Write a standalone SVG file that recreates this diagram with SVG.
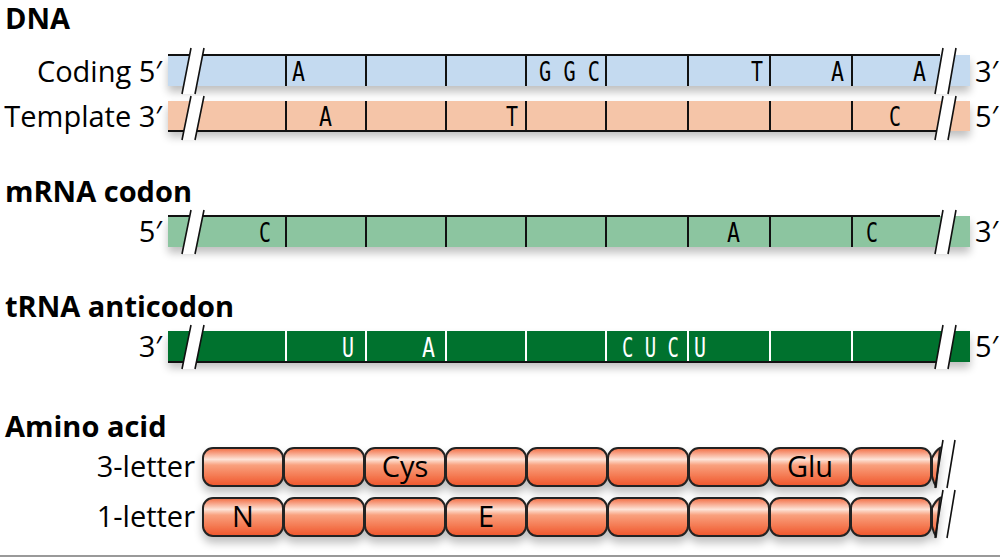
<svg xmlns="http://www.w3.org/2000/svg" width="1000" height="558" viewBox="0 0 1000 558">
<defs>
<filter id="sh" x="-5%" y="-50%" width="110%" height="250%"><feGaussianBlur in="SourceAlpha" stdDeviation="4"/><feOffset dy="6"/><feComponentTransfer><feFuncA type="linear" slope="0.25"/></feComponentTransfer><feMerge><feMergeNode/><feMergeNode in="SourceGraphic"/></feMerge></filter>
<linearGradient id="aa" x1="0" y1="0" x2="0" y2="1"><stop offset="0" stop-color="#f26a40"/><stop offset="0.3" stop-color="#fde4d8"/><stop offset="0.45" stop-color="#f9a17e"/><stop offset="1" stop-color="#f0552a"/></linearGradient>
<style>
.h{font-family:"Open Sans","Liberation Sans",sans-serif;font-weight:bold;font-size:29px}
.l{font-family:"Open Sans","Liberation Sans",sans-serif;font-size:29px}
.m{font-family:"DejaVu Sans Mono",monospace;font-size:26px}
.d{stroke:#111;stroke-width:2}
.w{stroke:#fff;stroke-width:2}
.b{fill:#fff;stroke:none}
.k{stroke:#111;stroke-width:1.6;fill:none}
.a{fill:url(#aa);stroke:#222;stroke-width:2}
.p{font-family:"Open Sans","Liberation Sans",sans-serif;font-size:29px}
</style>
</defs>
<rect width="1000" height="558" fill="#fff"/>
<line x1="0" y1="556" x2="1000" y2="556" stroke="#999" stroke-width="2"/>
<text class="h" x="5" y="29">DNA</text>
<text class="h" x="5" y="202">mRNA codon</text>
<text class="h" x="5" y="317">tRNA anticodon</text>
<text class="h" x="5" y="437">Amino acid</text>

<g id="coding">
<text class="l" x="162" y="82" text-anchor="end">Coding 5′</text>
<text class="l" x="975" y="82">3′</text>
<rect x="168" y="55" width="802" height="31" fill="#c4daf0" filter="url(#sh)"/>
<line class="d" x1="168" y1="55" x2="940" y2="55"/>
<g class="d"><line x1="286" y1="55" x2="286" y2="86"/><line x1="366" y1="55" x2="366" y2="86"/><line x1="446" y1="55" x2="446" y2="86"/><line x1="526" y1="55" x2="526" y2="86"/><line x1="606" y1="55" x2="606" y2="86"/><line x1="688" y1="55" x2="688" y2="86"/><line x1="770" y1="55" x2="770" y2="86"/><line x1="852" y1="55" x2="852" y2="86"/></g>
<text class="m" x="292" y="81" textLength="13" lengthAdjust="spacingAndGlyphs">A</text><text class="m" x="539" y="81" textLength="61" lengthAdjust="spacingAndGlyphs">G G C</text><text class="m" x="751" y="81" textLength="12" lengthAdjust="spacingAndGlyphs">T</text><text class="m" x="831" y="81" textLength="13" lengthAdjust="spacingAndGlyphs">A</text><text class="m" x="913" y="81" textLength="13" lengthAdjust="spacingAndGlyphs">A</text>
<polygon class="b" points="191,48 204,48 195,94 182,94"/><polygon class="b" points="943,48 956,48 948,94 935,94"/>
<path class="k" d="M191,48 L182,94 M204,48 L195,94 M943,48 L935,94 M956,48 L948,94"/>
</g>

<g id="template">
<text class="l" x="162" y="127" text-anchor="end">Template 3′</text>
<text class="l" x="975" y="127">5′</text>
<rect x="168" y="101" width="802" height="30" fill="#f5c5a8" filter="url(#sh)"/>
<line class="d" x1="168" y1="131" x2="940" y2="131"/>
<g class="d"><line x1="286" y1="101" x2="286" y2="131"/><line x1="366" y1="101" x2="366" y2="131"/><line x1="446" y1="101" x2="446" y2="131"/><line x1="526" y1="101" x2="526" y2="131"/><line x1="606" y1="101" x2="606" y2="131"/><line x1="688" y1="101" x2="688" y2="131"/><line x1="770" y1="101" x2="770" y2="131"/><line x1="852" y1="101" x2="852" y2="131"/></g>
<text class="m" x="319" y="126" textLength="13" lengthAdjust="spacingAndGlyphs">A</text><text class="m" x="506" y="126" textLength="12" lengthAdjust="spacingAndGlyphs">T</text><text class="m" x="889" y="126" textLength="12" lengthAdjust="spacingAndGlyphs">C</text>
<polygon class="b" points="191,96 204,96 195,140 182,140"/><polygon class="b" points="943,96 956,96 948,140 935,140"/>
<path class="k" d="M191,96 L182,140 M204,96 L195,140 M943,96 L935,140 M956,96 L948,140"/>
</g>

<g id="mrna">
<text class="l" x="162" y="242" text-anchor="end">5′</text>
<text class="l" x="975" y="242">3′</text>
<rect x="168" y="216" width="802" height="31" fill="#8cc5a0" filter="url(#sh)"/>
<line class="d" x1="168" y1="216" x2="940" y2="216"/>
<g class="d"><line x1="286" y1="216" x2="286" y2="247"/><line x1="366" y1="216" x2="366" y2="247"/><line x1="446" y1="216" x2="446" y2="247"/><line x1="526" y1="216" x2="526" y2="247"/><line x1="606" y1="216" x2="606" y2="247"/><line x1="688" y1="216" x2="688" y2="247"/><line x1="770" y1="216" x2="770" y2="247"/><line x1="852" y1="216" x2="852" y2="247"/></g>
<text class="m" x="259" y="242" textLength="12" lengthAdjust="spacingAndGlyphs">C</text><text class="m" x="727" y="242" textLength="13" lengthAdjust="spacingAndGlyphs">A</text><text class="m" x="866" y="242" textLength="12" lengthAdjust="spacingAndGlyphs">C</text>
<polygon class="b" points="191,210 204,210 195,254 182,254"/><polygon class="b" points="943,210 956,210 948,254 935,254"/>
<path class="k" d="M191,210 L182,254 M204,210 L195,254 M943,210 L935,254 M956,210 L948,254"/>
</g>

<g id="trna">
<text class="l" x="162" y="357" text-anchor="end">3′</text>
<text class="l" x="975" y="357">5′</text>
<rect x="168" y="331" width="802" height="31" fill="#00722f" filter="url(#sh)"/>
<line class="d" x1="168" y1="362" x2="940" y2="362"/>
<g class="w"><line x1="286" y1="331" x2="286" y2="361"/><line x1="366" y1="331" x2="366" y2="361"/><line x1="446" y1="331" x2="446" y2="361"/><line x1="526" y1="331" x2="526" y2="361"/><line x1="606" y1="331" x2="606" y2="361"/><line x1="688" y1="331" x2="688" y2="361"/><line x1="770" y1="331" x2="770" y2="361"/><line x1="852" y1="331" x2="852" y2="361"/></g>
<g fill="#fff"><text class="m" x="342" y="357" textLength="12" lengthAdjust="spacingAndGlyphs">U</text><text class="m" x="422" y="357" textLength="13" lengthAdjust="spacingAndGlyphs">A</text><text class="m" x="622" y="357" textLength="57" lengthAdjust="spacingAndGlyphs">C U C</text><text class="m" x="694" y="357" textLength="12" lengthAdjust="spacingAndGlyphs">U</text></g>
<polygon class="b" points="191,325 204,325 195,369 182,369"/><polygon class="b" points="943,325 956,325 948,369 935,369"/>
<path class="k" d="M191,325 L182,369 M204,325 L195,369 M943,325 L935,369 M956,325 L948,369"/>
</g>

<g id="aa3">
<text class="p" x="195" y="477" text-anchor="end">3-letter</text>
<g filter="url(#sh)">
<rect class="a" x="203" y="448" width="80" height="38" rx="10"/><rect class="a" x="284" y="448" width="80" height="38" rx="10"/><rect class="a" x="365" y="448" width="80" height="38" rx="10"/><rect class="a" x="446" y="448" width="80" height="38" rx="10"/><rect class="a" x="527" y="448" width="80" height="38" rx="10"/><rect class="a" x="608" y="448" width="80" height="38" rx="10"/><rect class="a" x="689" y="448" width="80" height="38" rx="10"/><rect class="a" x="770" y="448" width="80" height="38" rx="10"/><rect class="a" x="851" y="448" width="80" height="38" rx="10"/>
<path class="a" d="M932,458 Q936,450 940,448 L936,486 Q934,484 932,476 Z"/>
</g>
<text class="p" x="405" y="477" text-anchor="middle">Cys</text><text class="p" x="810" y="477" text-anchor="middle">Glu</text>
<path class="k" d="M943,440 L935,488 M955,440 L947,488"/>
</g>

<g id="aa1">
<text class="p" x="195" y="527" text-anchor="end">1-letter</text>
<g filter="url(#sh)">
<rect class="a" x="203" y="498" width="80" height="38" rx="10"/><rect class="a" x="284" y="498" width="80" height="38" rx="10"/><rect class="a" x="365" y="498" width="80" height="38" rx="10"/><rect class="a" x="446" y="498" width="80" height="38" rx="10"/><rect class="a" x="527" y="498" width="80" height="38" rx="10"/><rect class="a" x="608" y="498" width="80" height="38" rx="10"/><rect class="a" x="689" y="498" width="80" height="38" rx="10"/><rect class="a" x="770" y="498" width="80" height="38" rx="10"/><rect class="a" x="851" y="498" width="80" height="38" rx="10"/>
<path class="a" d="M932,508 Q936,500 940,498 L936,536 Q934,534 932,526 Z"/>
</g>
<text class="p" x="243" y="527" text-anchor="middle">N</text><text class="p" x="486" y="527" text-anchor="middle">E</text>
<path class="k" d="M943,490 L935,538 M955,490 L947,538"/>
</g>
</svg>
